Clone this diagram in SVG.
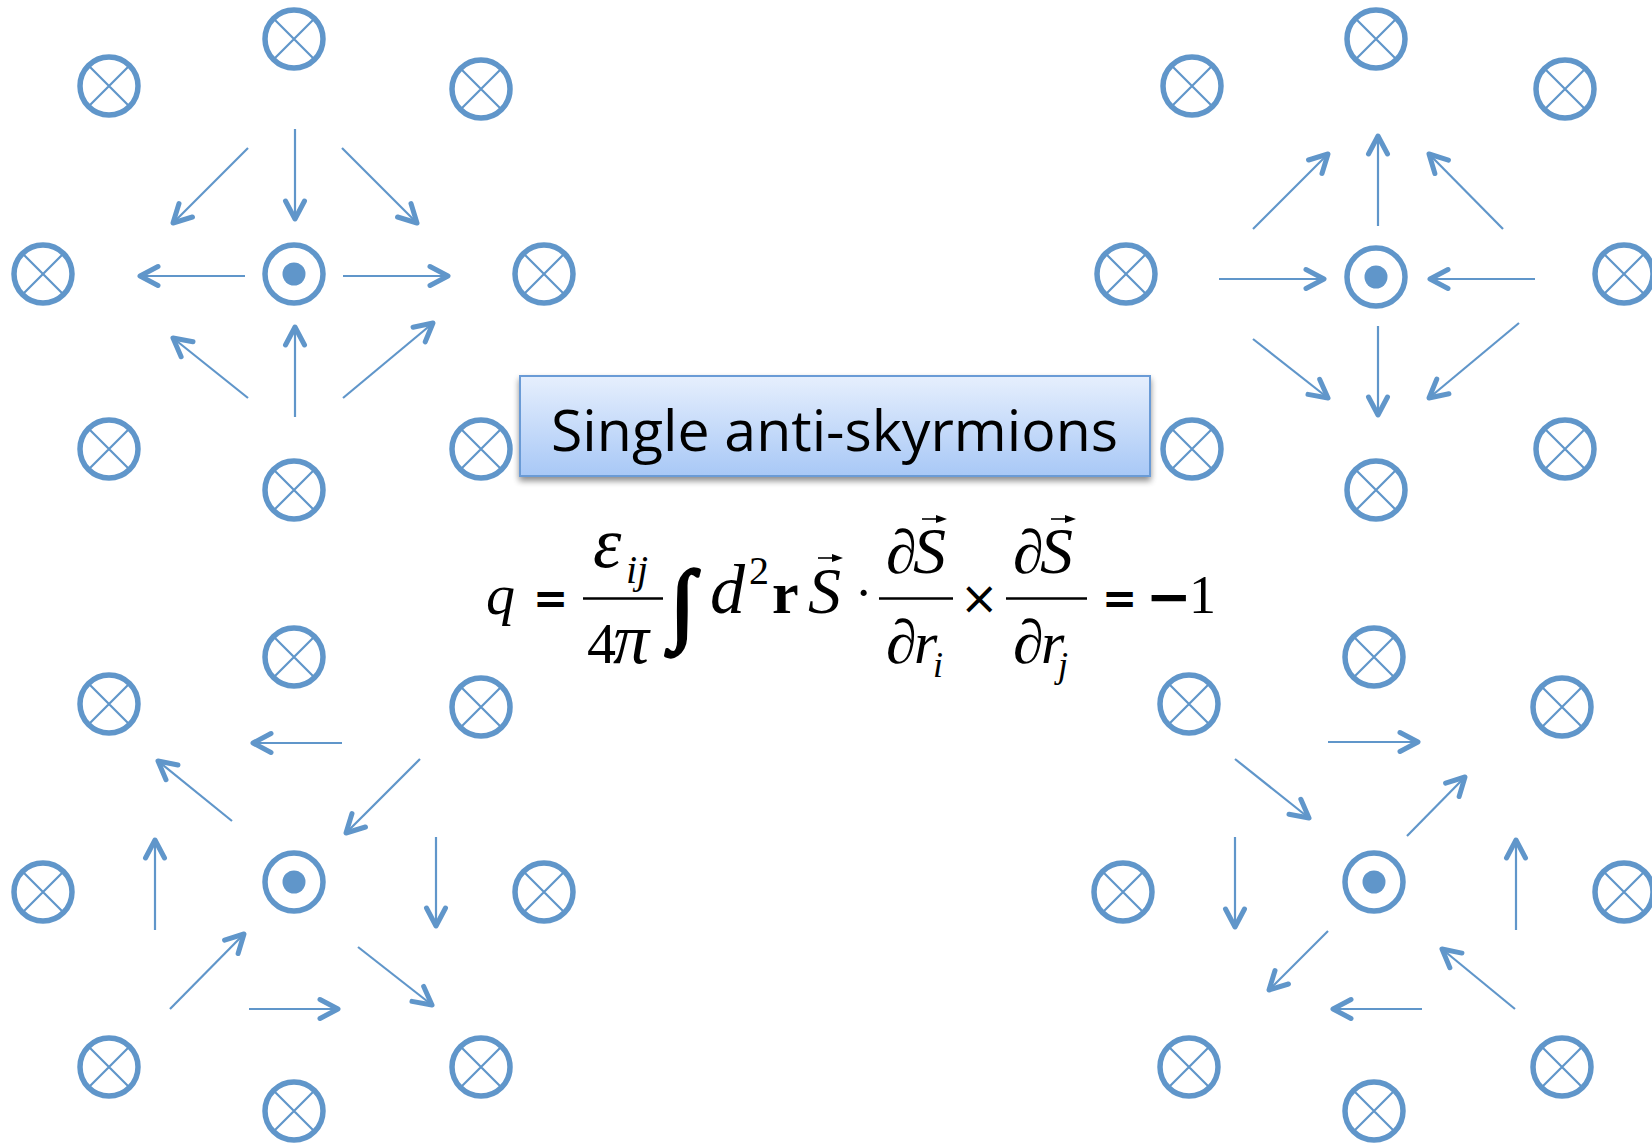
<svg xmlns="http://www.w3.org/2000/svg" width="1652" height="1144" viewBox="0 0 1652 1144">
<style>
.ring{fill:none;stroke:#6096ca;stroke-width:5.5}
.xl{stroke:#6096ca;stroke-width:2.2;fill:none}
.dot{fill:#6096ca}
.arr{stroke:#6096ca;stroke-width:2.2;fill:none;marker-end:url(#ah)}
.m{font-family:"Liberation Serif","Times New Roman",serif;fill:#000}
.s{font-family:"DejaVu Sans",sans-serif;fill:#000}
.ls{font-family:"Liberation Sans",Arial,sans-serif;fill:#000}
.it{font-style:italic}
.bd{font-weight:bold}
.bar{stroke:#000;stroke-width:2.6}
.vec{stroke:#000;stroke-width:1.6;fill:none}
.vh{fill:#000}
</style>
<defs>
<symbol id="cx" overflow="visible">
<circle class="ring" cx="0" cy="0" r="29"/>
<path class="xl" d="M-19.5,-19.5 L19.5,19.5 M19.5,-19.5 L-19.5,19.5"/>
</symbol>
<symbol id="cd" overflow="visible">
<circle class="ring" cx="0" cy="0" r="29"/>
<circle class="dot" cx="0" cy="0" r="11.5"/>
</symbol>
<marker id="ah" viewBox="-25 -14 30 28" refX="0" refY="0" markerWidth="30" markerHeight="28" markerUnits="userSpaceOnUse" orient="auto" overflow="visible">
<path d="M-18,-9.5 L0,0 L-18,9.5" fill="none" stroke="#6096ca" stroke-width="5" stroke-linecap="round" stroke-linejoin="round"/>
</marker>
<linearGradient id="bg" x1="0" y1="0" x2="0" y2="1">
<stop offset="0" stop-color="#e6effd"/>
<stop offset="1" stop-color="#a8c8f6"/>
</linearGradient>
<filter id="sh" x="-5%" y="-10%" width="110%" height="130%">
<feGaussianBlur in="SourceAlpha" stdDeviation="3"/>
<feOffset dx="0" dy="4" result="b"/>
<feComponentTransfer><feFuncA type="linear" slope="0.45"/></feComponentTransfer>
<feMerge><feMergeNode/><feMergeNode in="SourceGraphic"/></feMerge>
</filter>
</defs>

<!-- Top-left cluster -->
<g id="tl-top"><use href="#cx" x="294" y="39"/></g>
<g id="tl-ul"><use href="#cx" x="109" y="86"/></g>
<g id="tl-ur"><use href="#cx" x="481" y="89"/></g>
<g id="tl-l"><use href="#cx" x="43" y="274"/></g>
<g id="tl-c"><use href="#cd" x="294" y="274"/></g>
<g id="tl-r"><use href="#cx" x="544" y="274"/></g>
<g id="tl-ll"><use href="#cx" x="109" y="449"/></g>
<g id="tl-lr"><use href="#cx" x="481" y="449"/></g>
<g id="tl-b"><use href="#cx" x="294" y="490"/></g>

<!-- Top-right cluster -->
<g id="tr-top"><use href="#cx" x="1376" y="39"/></g>
<g id="tr-ul"><use href="#cx" x="1192" y="86"/></g>
<g id="tr-ur"><use href="#cx" x="1565" y="89"/></g>
<g id="tr-l"><use href="#cx" x="1126" y="274"/></g>
<g id="tr-c"><use href="#cd" x="1376" y="277"/></g>
<g id="tr-r"><use href="#cx" x="1624" y="274"/></g>
<g id="tr-ll"><use href="#cx" x="1192" y="449"/></g>
<g id="tr-lr"><use href="#cx" x="1565" y="449"/></g>
<g id="tr-b"><use href="#cx" x="1376" y="490"/></g>

<!-- Bottom-left cluster -->
<g id="bl-top"><use href="#cx" x="294" y="657"/></g>
<g id="bl-ul"><use href="#cx" x="109" y="704"/></g>
<g id="bl-ur"><use href="#cx" x="481" y="707"/></g>
<g id="bl-l"><use href="#cx" x="43" y="892"/></g>
<g id="bl-c"><use href="#cd" x="294" y="882"/></g>
<g id="bl-r"><use href="#cx" x="544" y="892"/></g>
<g id="bl-ll"><use href="#cx" x="109" y="1067"/></g>
<g id="bl-lr"><use href="#cx" x="481" y="1067"/></g>
<g id="bl-b"><use href="#cx" x="294" y="1111"/></g>

<!-- Bottom-right cluster -->
<g id="br-top"><use href="#cx" x="1374" y="657"/></g>
<g id="br-ul"><use href="#cx" x="1189" y="704"/></g>
<g id="br-ur"><use href="#cx" x="1562" y="707"/></g>
<g id="br-l"><use href="#cx" x="1123" y="892"/></g>
<g id="br-c"><use href="#cd" x="1374" y="882"/></g>
<g id="br-r"><use href="#cx" x="1624" y="892"/></g>
<g id="br-ll"><use href="#cx" x="1189" y="1067"/></g>
<g id="br-lr"><use href="#cx" x="1562" y="1067"/></g>
<g id="br-b"><use href="#cx" x="1374" y="1111"/></g>

<g id="connectors">
<!-- TL -->
<line class="arr" x1="295" y1="129" x2="295" y2="219"/>
<line class="arr" x1="248" y1="148" x2="173" y2="223"/>
<line class="arr" x1="342" y1="148" x2="417" y2="223"/>
<line class="arr" x1="245" y1="276" x2="140" y2="276"/>
<line class="arr" x1="343" y1="276" x2="448" y2="276"/>
<line class="arr" x1="248" y1="398" x2="173" y2="338"/>
<line class="arr" x1="295" y1="417" x2="295" y2="327"/>
<line class="arr" x1="343" y1="398" x2="433" y2="323"/>
<!-- TR -->
<line class="arr" x1="1253" y1="229" x2="1328" y2="154"/>
<line class="arr" x1="1378" y1="226" x2="1378" y2="136"/>
<line class="arr" x1="1503" y1="229" x2="1429" y2="154"/>
<line class="arr" x1="1219" y1="279" x2="1324" y2="279"/>
<line class="arr" x1="1535" y1="279" x2="1430" y2="279"/>
<line class="arr" x1="1253" y1="339" x2="1328" y2="398"/>
<line class="arr" x1="1378" y1="326" x2="1378" y2="415"/>
<line class="arr" x1="1519" y1="323" x2="1429" y2="398"/>
<!-- BL -->
<line class="arr" x1="342" y1="743" x2="253" y2="743"/>
<line class="arr" x1="232" y1="821" x2="158" y2="761"/>
<line class="arr" x1="420" y1="759" x2="346" y2="833"/>
<line class="arr" x1="155" y1="930" x2="155" y2="840"/>
<line class="arr" x1="436" y1="837" x2="436" y2="926"/>
<line class="arr" x1="170" y1="1009" x2="244" y2="934"/>
<line class="arr" x1="249" y1="1009" x2="338" y2="1009"/>
<line class="arr" x1="358" y1="947" x2="432" y2="1005"/>
<!-- BR -->
<line class="arr" x1="1328" y1="742" x2="1418" y2="742"/>
<line class="arr" x1="1235" y1="759" x2="1309" y2="818"/>
<line class="arr" x1="1407" y1="836" x2="1465" y2="777"/>
<line class="arr" x1="1235" y1="837" x2="1235" y2="927"/>
<line class="arr" x1="1516" y1="930" x2="1516" y2="840"/>
<line class="arr" x1="1328" y1="931" x2="1269" y2="990"/>
<line class="arr" x1="1515" y1="1009" x2="1442" y2="949"/>
<line class="arr" x1="1422" y1="1009" x2="1333" y2="1009"/>
</g>

<g id="title">
<rect x="520" y="376" width="630" height="100" fill="url(#bg)" stroke="#6b9bd6" stroke-width="2" filter="url(#sh)"/>
<text x="551" y="451" font-family="'Open Sans','Noto Sans',sans-serif" font-size="56" textLength="567" lengthAdjust="spacingAndGlyphs" fill="#000">Single anti-skyrmions</text>
</g>

<g id="formula">
<text class="m it" x="486" y="614" font-size="58">q</text>
<text class="s bd" x="533" y="613" font-size="42">=</text>
<text class="m it" x="593" y="567" font-size="72">ε<tspan x="626" y="583" font-size="40">ij</tspan></text>
<line class="bar" x1="583" y1="598.5" x2="663" y2="598.5"/>
<text class="m" x="587" y="663" font-size="58">4<tspan class="it" x="613" font-size="72">π</tspan></text>
<text class="m" x="670" y="633" font-size="90" stroke="#000" stroke-width="3" stroke-linejoin="round">∫</text>
<text class="m it" x="710" y="613" font-size="70">d<tspan x="749" y="584" font-size="40" font-style="normal">2</tspan><tspan x="772" y="613" font-size="60" font-style="normal" font-weight="bold">r</tspan></text>
<text class="m it" x="808" y="613" font-size="66">S</text>
<path class="vec" d="M818,558 L838,558"/><path class="vh" d="M832,554 L843,558 L832,562 Z"/>
<text class="m" x="855" y="610" font-size="52">·</text>
<line class="bar" x1="879" y1="598.5" x2="953" y2="598.5"/>
<text class="m" x="886" y="573" font-size="62">∂<tspan class="it" x="913" font-size="66">S</tspan></text>
<path class="vec" d="M922,519 L942,519"/><path class="vh" d="M936,515 L947,519 L936,523 Z"/>
<text class="m" x="886" y="663" font-size="62">∂<tspan class="it" x="914" font-size="60">r</tspan><tspan class="it" x="933" y="677" font-size="36">i</tspan></text>
<text class="s" x="960" y="614" font-size="46">×</text>
<line class="bar" x1="1006" y1="598.5" x2="1087" y2="598.5"/>
<text class="m" x="1013" y="573" font-size="62">∂<tspan class="it" x="1040" font-size="66">S</tspan></text>
<path class="vec" d="M1051,519 L1071,519"/><path class="vh" d="M1065,515 L1076,519 L1065,523 Z"/>
<text class="m" x="1013" y="663" font-size="62">∂<tspan class="it" x="1041" font-size="60">r</tspan><tspan class="it" x="1058" y="677" font-size="36">j</tspan></text>
<text class="s bd" x="1102" y="613" font-size="42">=</text>
<text class="ls bd" x="1149" y="617" font-size="56" textLength="40" lengthAdjust="spacingAndGlyphs">−</text>
<text class="m" x="1189" y="613" font-size="54">1</text>
</g>
</svg>
